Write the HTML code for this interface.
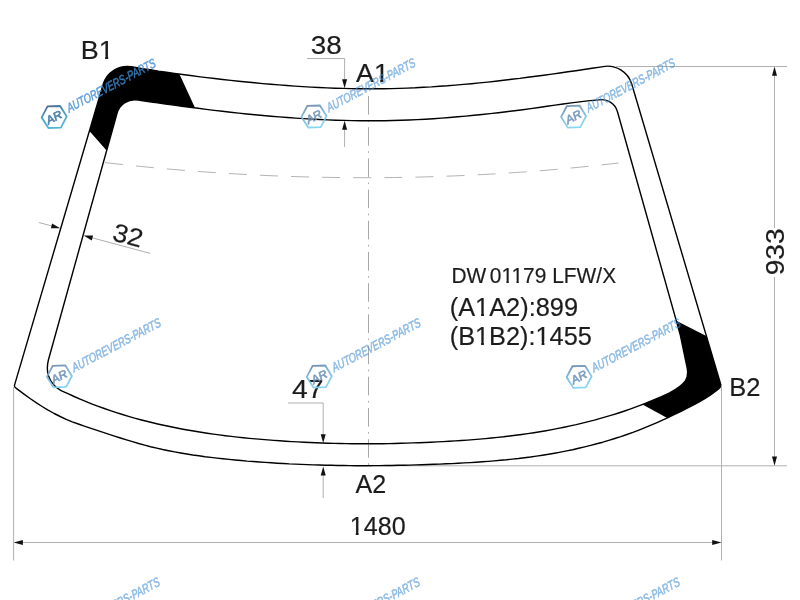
<!DOCTYPE html>
<html>
<head>
<meta charset="utf-8">
<title>DW01179 LFW/X</title>
<style>
html,body{margin:0;padding:0;background:#fff;}
body{width:800px;height:600px;overflow:hidden;}
svg{display:block;will-change:transform;}
text{font-family:"Liberation Sans",sans-serif;fill:#1c1c1c;}
</style>
</head>
<body>
<svg width="800" height="600" viewBox="0 0 800 600">
<defs>
<linearGradient id="hg" x1="0" y1="0" x2="0.25" y2="1">
<stop offset="0" stop-color="#6c83a8"/>
<stop offset="0.45" stop-color="#76b4d6"/>
<stop offset="1" stop-color="#7ed2ee"/>
</linearGradient>
<linearGradient id="hd" x1="0" y1="0" x2="0.25" y2="1">
<stop offset="0" stop-color="#3d5a85"/>
<stop offset="0.45" stop-color="#3f93bd"/>
<stop offset="1" stop-color="#43b0d8"/>
</linearGradient>
</defs>
<rect width="800" height="600" fill="#fff"/>

<!-- thin gray construction lines -->
<g fill="none" stroke="#b0b0b0" stroke-width="1">
<path d="M616 66.5H787"/>
<path d="M369 465.8H787"/>
<path d="M774.5 70V228M774.5 277V462"/>
<path d="M13.6 387V560.5"/>
<path d="M721.5 387V560.5"/>
<path d="M18 542.5H717"/>
<path d="M307 58.5H344.6V84"/>
<path d="M344.6 125V147"/>
<path d="M288 403H323.2V438"/>
<path d="M323.2 470V498"/>
<path d="M38.9 222.5L56 227.1"/>
<path d="M88 236.7L150.2 253.4"/>
</g>
<!-- centre line -->
<path d="M368.5 96V465.5" fill="none" stroke="#a8a8a8" stroke-width="1" stroke-dasharray="18.6 5.5 1.6 5.5"/>
<!-- dashed shade band -->
<path d="M105 162.6Q365 192.6 618.5 163" fill="none" stroke="#b4b4b4" stroke-width="1" stroke-dasharray="18 13.1"/>

<!-- arrows -->
<g fill="#111">
<polygon points="774.5,66.5 772,75.8 777,75.8"/>
<polygon points="774.5,465.8 772,456.5 777,456.5"/>
<polygon points="13.6,542.5 22.9,540 22.9,545"/>
<polygon points="721.5,542.5 712.2,540 712.2,545"/>
<polygon points="344.6,88.2 342.1,79.3 347.1,79.3"/>
<polygon points="344.6,120.8 342.1,129.7 347.1,129.7"/>
<polygon points="323.2,443 320.7,434.2 325.7,434.2"/>
<polygon points="323.2,466.6 320.7,475.4 325.7,475.4"/>
<polygon points="60.2,228.3 50.9,228.2 52.1,223.6"/>
<polygon points="83.6,235.5 93.1,235.6 91.8,240.4"/>
</g>

<!-- black corner fills -->
<g fill="#000">
<path d="M89.4 131L103.1 84.5A25.1 25.1 0 0 1 131.3 66.8L155 70.5L179.4 74.1L195.1 108L165 103.9L138.3 100.1A18.4 18.4 0 0 0 116.9 113.7L106.6 150.6Z"/>
<path d="M676.3 320.8L706.3 335.9L721.3 386.4L720.3 387.4L713.7 392.8L707 397.3L700.4 401.3L693.8 404.9L687.1 408.3L680.5 411.6L673.8 414.8L667.2 418L642.5 404.5L648.6 402.1L654.8 399.6L660.9 396.9L667 394.1L670 392.7C685.8 383.8 689.5 378.7 687 367L680.3 335Z"/>
</g>

<!-- glass outlines -->
<g fill="none" stroke="#000" stroke-width="1.4" stroke-linejoin="round">
<path d="M14.6 384.9L103.1 84.5A25.1 25.1 0 0 1 131.3 66.8L134.3 67.3L142.3 68.6L150.4 69.8L158.4 71.1L166.4 72.2L174.4 73.4L182.5 74.5L190.5 75.5L198.5 76.6L206.6 77.6L214.6 78.5L222.6 79.5L230.7 80.4L238.7 81.2L246.7 82L254.7 82.8L262.8 83.6L270.8 84.3L278.8 84.9L286.9 85.5L294.9 86.1L302.9 86.6L310.9 87.1L319 87.5L327 87.9L335 88.2L343.1 88.4L351.1 88.6L359.1 88.7L367.1 88.8L375.2 88.8L383.2 88.7L391.2 88.6L399.3 88.4L407.3 88.1L415.3 87.8L423.4 87.3L431.4 86.9L439.4 86.3L447.4 85.8L455.5 85.1L463.5 84.4L471.5 83.7L479.6 82.9L487.6 82.1L495.6 81.2L503.6 80.3L511.7 79.3L519.7 78.4L527.7 77.3L535.8 76.3L543.8 75.2L551.8 74.1L559.9 73L567.9 71.8L575.9 70.7L583.9 69.5L592 68.3L600 67.1L603 66.6A25.4 25.4 0 0 1 631.8 84.3L720.7 384.3Q721.3 386.4 719.3 388.2L717.3 389.9L711.3 394.5L705.2 398.4L699.2 401.9L693.2 405.2L687.2 408.2L681.1 411.3L675.1 414.2L669.1 417.1L663 419.9L657 422.6L651 425.2L645 427.7L638.9 430.1L632.9 432.4L626.9 434.5L620.8 436.6L614.8 438.5L608.8 440.4L602.8 442.2L596.7 443.8L590.7 445.4L584.7 446.9L578.6 448.3L572.6 449.7L566.6 450.9L560.6 452.1L554.5 453.2L548.5 454.2L542.5 455.2L536.4 456.1L530.4 457L524.4 457.7L518.4 458.5L512.3 459.1L506.3 459.8L500.3 460.3L494.2 460.9L488.2 461.4L482.2 461.8L476.2 462.2L470.1 462.6L464.1 462.9L458.1 463.3L452 463.6L446 463.8L440 464.1L434 464.3L427.9 464.5L421.9 464.7L415.9 464.9L409.8 465.1L403.8 465.2L397.8 465.3L391.8 465.5L385.7 465.5L379.7 465.6L373.7 465.6L367.6 465.7L361.6 465.7L355.6 465.7L349.6 465.6L343.5 465.5L337.5 465.5L331.5 465.3L325.5 465.2L319.4 465L313.4 464.9L307.4 464.6L301.3 464.4L295.3 464.1L289.3 463.9L283.3 463.5L277.2 463.2L271.2 462.8L265.2 462.4L259.1 462L253.1 461.5L247.1 461.1L241.1 460.5L235 460L229 459.4L223 458.8L216.9 458.1L210.9 457.4L204.9 456.7L198.9 455.8L192.8 455L186.8 454L180.8 453L174.7 451.9L168.7 450.7L162.7 449.5L156.7 448.1L150.6 446.7L144.6 445.1L138.6 443.5L132.5 441.7L126.5 439.9L120.5 438L114.5 436.1L108.4 434.1L102.4 432.1L96.4 430.2L90.3 428.2L84.3 426.2L78.3 424L72.3 421.8L66.2 419.3L60.2 416.5L54.2 413.5L48.1 410.2L42.1 406.5L36.1 402.6L30.1 398.5L24 394.1L18 389.6L16 388.1Q14 387 14.6 384.9Z"/>
<path d="M48.4 360L116.9 113.7A18.4 18.4 0 0 1 138.3 100.1L141.3 100.5L149.4 101.7L157.5 102.9L165.6 104L173.8 105.1L181.9 106.2L190 107.3L198.1 108.3L206.2 109.4L214.3 110.4L222.4 111.3L230.6 112.2L238.7 113.1L246.8 114L254.9 114.8L263 115.5L271.1 116.2L279.2 116.9L287.4 117.5L295.5 118.1L303.6 118.6L311.7 119.1L319.8 119.5L327.9 119.9L336 120.2L344.2 120.4L352.3 120.6L360.4 120.7L368.5 120.8L376.6 120.8L384.7 120.7L392.8 120.5L401 120.3L409.1 120L417.2 119.6L425.3 119.2L433.4 118.7L441.5 118.1L449.6 117.5L457.8 116.8L465.9 116.1L474 115.3L482.1 114.5L490.2 113.6L498.3 112.7L506.4 111.7L514.6 110.7L522.7 109.7L530.8 108.6L538.9 107.5L547 106.3L555.1 105.1L563.2 104L571.4 102.9L579.5 101.9L587.6 100.9L595.7 100.1L598.7 99.9A16.2 16.2 0 0 1 617.4 111.5L680.3 335L687 367C689.5 378.7 685.8 383.8 670 392.7L667 394.1L660.9 396.9L654.9 399.5L648.8 402L642.8 404.4L636.7 406.7L630.7 408.9L624.6 411L618.6 413L612.5 414.9L606.5 416.7L600.4 418.4L594.4 420.1L588.3 421.6L582.3 423.1L576.2 424.6L570.2 425.9L564.1 427.2L558.1 428.4L552 429.6L546 430.7L539.9 431.7L533.9 432.7L527.8 433.6L521.8 434.5L515.7 435.3L509.7 436L503.6 436.8L497.6 437.4L491.5 438L485.5 438.6L479.4 439.1L473.4 439.6L467.3 440.1L461.3 440.5L455.2 440.9L449.2 441.3L443.1 441.6L437.1 441.9L431 442.2L425 442.5L418.9 442.7L412.9 442.9L406.8 443.1L400.8 443.3L394.7 443.5L388.7 443.6L382.6 443.7L376.6 443.8L370.5 443.8L364.5 443.8L358.4 443.8L352.4 443.7L346.3 443.6L340.3 443.5L334.2 443.4L328.2 443.2L322.1 443L316.1 442.8L310 442.5L304 442.2L297.9 441.9L291.9 441.6L285.8 441.2L279.8 440.8L273.7 440.4L267.7 439.9L261.6 439.4L255.6 438.9L249.5 438.4L243.5 437.8L237.4 437.1L231.4 436.4L225.3 435.7L219.3 434.9L213.2 434.1L207.2 433.2L201.1 432.3L195.1 431.3L189 430.3L183 429.2L176.9 428L170.9 426.8L164.8 425.5L158.8 424.2L152.7 422.8L146.7 421.3L140.6 419.7L134.6 418.1L128.5 416.3L122.5 414.5L116.4 412.6L110.4 410.6L104.3 408.5L98.3 406.3L92.2 404.1L86.2 401.6L80.1 399.1L74.1 396.5L68 393.7L65 392.3C53.9 388 44.1 377.3 48.4 360Z"/>
</g>

<!-- labels -->
<g id="labels" stroke="#1c1c1c" stroke-width="0.18" stroke-linejoin="round">
<text transform="translate(80.7 58.9) scale(1.034 1)" font-size="26.1">B1</text>
<text transform="translate(310.8 54.3) scale(1.090 1)" font-size="25.6">38</text>
<text transform="translate(356.1 81.5) scale(1.042 1)" font-size="25.7">A1</text>
<text transform="translate(729.3 396.3) scale(1.000 1)" font-size="25.5">B2</text>
<text transform="translate(355.6 493.1) scale(0.983 1)" font-size="25.5">A2</text>
<text transform="translate(291.9 398.3) scale(1.097 1)" font-size="25.8">47</text>
<text transform="translate(349.8 535) scale(0.985 1)" font-size="25.5">1480</text>
<text transform="translate(451.4 283.4) scale(0.969 1)" font-size="21.6" x="0 15.6 39.6">DW01179 LFW/X</text>
<text transform="translate(449.7 315.8) scale(1.003 1)" font-size="25.3">(A1A2):899</text>
<text transform="translate(449.7 344.8) scale(1.001 1)" font-size="25.3">(B1B2):1455</text>
<text transform="translate(783.8 275.3) rotate(-90) scale(1.075 1)" font-size="26.2">933</text>
<text transform="translate(111.2 239.9) rotate(15) scale(1.06 1)" font-size="25.5">32</text>
</g>
<g fill="#fff">
<rect x="99.5" y="55.8" width="5.6" height="4.3"/>
<rect x="108.2" y="55.8" width="5.3" height="4.3"/>
<rect x="374.7" y="78.5" width="5.6" height="4.2"/>
<rect x="383.4" y="78.5" width="5.3" height="4.2"/>
<rect x="350.6" y="532.0" width="5.2" height="4.2"/>
<rect x="358.6" y="532.0" width="5.0" height="4.2"/>
<rect x="502.0" y="280.7" width="4.4" height="3.9"/>
<rect x="508.8" y="280.7" width="4.1" height="3.9"/>
<rect x="512.1" y="280.7" width="4.4" height="3.9"/>
<rect x="518.8" y="280.7" width="4.1" height="3.9"/>
<rect x="475.8" y="312.8" width="5.3" height="4.2"/>
<rect x="484.0" y="312.8" width="5.0" height="4.2"/>
<rect x="475.8" y="341.8" width="5.3" height="4.2"/>
<rect x="483.9" y="341.8" width="5.0" height="4.2"/>
<rect x="536.3" y="341.8" width="5.3" height="4.2"/>
<rect x="544.4" y="341.8" width="5.0" height="4.2"/>
</g>

<!-- watermark -->
<g transform="translate(54.2 117)">
<polygon points="12.5 0 6.3 10.8 -6.2 10.8 -12.5 0 -6.3 -10.8 6.3 -10.8" transform="rotate(-2)" fill="none" stroke="url(#hd)" stroke-width="1.8" stroke-linejoin="round" opacity="0.92"/>
<g transform="rotate(-28)" font-style="italic">
<text x="-0.3" y="4.1" text-anchor="middle" font-size="11.5" textLength="16.5" lengthAdjust="spacingAndGlyphs" opacity="0.88" style="fill:#346f9a;stroke:#346f9a;stroke-width:0.6">AR</text>
<text transform="translate(15.2 3.3) skewX(-5)" font-size="12.8" textLength="99" lengthAdjust="spacingAndGlyphs" opacity="0.82" style="fill:#3f8cd2;stroke:#3f8cd2;stroke-width:0.55">AUTOREVERS-PARTS</text>
</g>
</g>
<g transform="translate(314 116.5)">
<polygon points="12.5 0 6.3 10.8 -6.2 10.8 -12.5 0 -6.3 -10.8 6.3 -10.8" transform="rotate(-2)" fill="none" stroke="url(#hg)" stroke-width="1.8" stroke-linejoin="round" opacity="0.92"/>
<g transform="rotate(-28)" font-style="italic">
<text x="-0.3" y="4.1" text-anchor="middle" font-size="11.5" textLength="16.5" lengthAdjust="spacingAndGlyphs" opacity="0.88" style="fill:#6a8fb5;stroke:#6a8fb5;stroke-width:0.6">AR</text>
<text transform="translate(15.2 3.3) skewX(-5)" font-size="12.8" textLength="99" lengthAdjust="spacingAndGlyphs" opacity="0.6" style="fill:#3f8cd2;stroke:#3f8cd2;stroke-width:0.55">AUTOREVERS-PARTS</text>
</g>
</g>
<g transform="translate(573.6 116.6)">
<polygon points="12.5 0 6.3 10.8 -6.2 10.8 -12.5 0 -6.3 -10.8 6.3 -10.8" transform="rotate(-2)" fill="none" stroke="url(#hg)" stroke-width="1.8" stroke-linejoin="round" opacity="0.92"/>
<g transform="rotate(-28)" font-style="italic">
<text x="-0.3" y="4.1" text-anchor="middle" font-size="11.5" textLength="16.5" lengthAdjust="spacingAndGlyphs" opacity="0.88" style="fill:#6a8fb5;stroke:#6a8fb5;stroke-width:0.6">AR</text>
<text transform="translate(15.2 3.3) skewX(-5)" font-size="12.8" textLength="99" lengthAdjust="spacingAndGlyphs" opacity="0.6" style="fill:#3f8cd2;stroke:#3f8cd2;stroke-width:0.55">AUTOREVERS-PARTS</text>
</g>
</g>
<g transform="translate(59.4 376.4)">
<polygon points="12.5 0 6.3 10.8 -6.2 10.8 -12.5 0 -6.3 -10.8 6.3 -10.8" transform="rotate(-2)" fill="none" stroke="url(#hg)" stroke-width="1.8" stroke-linejoin="round" opacity="0.92"/>
<g transform="rotate(-28)" font-style="italic">
<text x="-0.3" y="4.1" text-anchor="middle" font-size="11.5" textLength="16.5" lengthAdjust="spacingAndGlyphs" opacity="0.88" style="fill:#6a8fb5;stroke:#6a8fb5;stroke-width:0.6">AR</text>
<text transform="translate(15.2 3.3) skewX(-5)" font-size="12.8" textLength="99" lengthAdjust="spacingAndGlyphs" opacity="0.6" style="fill:#3f8cd2;stroke:#3f8cd2;stroke-width:0.55">AUTOREVERS-PARTS</text>
</g>
</g>
<g transform="translate(319.3 376.5)">
<polygon points="12.5 0 6.3 10.8 -6.2 10.8 -12.5 0 -6.3 -10.8 6.3 -10.8" transform="rotate(-2)" fill="none" stroke="url(#hg)" stroke-width="1.8" stroke-linejoin="round" opacity="0.92"/>
<g transform="rotate(-28)" font-style="italic">
<text x="-0.3" y="4.1" text-anchor="middle" font-size="11.5" textLength="16.5" lengthAdjust="spacingAndGlyphs" opacity="0.88" style="fill:#6a8fb5;stroke:#6a8fb5;stroke-width:0.6">AR</text>
<text transform="translate(15.2 3.3) skewX(-5)" font-size="12.8" textLength="99" lengthAdjust="spacingAndGlyphs" opacity="0.6" style="fill:#3f8cd2;stroke:#3f8cd2;stroke-width:0.55">AUTOREVERS-PARTS</text>
</g>
</g>
<g transform="translate(579.1 376.8)">
<polygon points="12.5 0 6.3 10.8 -6.2 10.8 -12.5 0 -6.3 -10.8 6.3 -10.8" transform="rotate(-2)" fill="none" stroke="url(#hg)" stroke-width="1.8" stroke-linejoin="round" opacity="0.92"/>
<g transform="rotate(-28)" font-style="italic">
<text x="-0.3" y="4.1" text-anchor="middle" font-size="11.5" textLength="16.5" lengthAdjust="spacingAndGlyphs" opacity="0.88" style="fill:#6a8fb5;stroke:#6a8fb5;stroke-width:0.6">AR</text>
<text transform="translate(15.2 3.3) skewX(-5)" font-size="12.8" textLength="99" lengthAdjust="spacingAndGlyphs" opacity="0.6" style="fill:#3f8cd2;stroke:#3f8cd2;stroke-width:0.55">AUTOREVERS-PARTS</text>
</g>
</g>
<g transform="translate(58.4 635.8)">
<polygon points="12.5 0 6.3 10.8 -6.2 10.8 -12.5 0 -6.3 -10.8 6.3 -10.8" transform="rotate(-2)" fill="none" stroke="url(#hg)" stroke-width="1.8" stroke-linejoin="round" opacity="0.92"/>
<g transform="rotate(-28)" font-style="italic">
<text x="-0.3" y="4.1" text-anchor="middle" font-size="11.5" textLength="16.5" lengthAdjust="spacingAndGlyphs" opacity="0.88" style="fill:#6a8fb5;stroke:#6a8fb5;stroke-width:0.6">AR</text>
<text transform="translate(15.2 3.3) skewX(-5)" font-size="12.8" textLength="99" lengthAdjust="spacingAndGlyphs" opacity="0.6" style="fill:#3f8cd2;stroke:#3f8cd2;stroke-width:0.55">AUTOREVERS-PARTS</text>
</g>
</g>
<g transform="translate(318.4 635.8)">
<polygon points="12.5 0 6.3 10.8 -6.2 10.8 -12.5 0 -6.3 -10.8 6.3 -10.8" transform="rotate(-2)" fill="none" stroke="url(#hg)" stroke-width="1.8" stroke-linejoin="round" opacity="0.92"/>
<g transform="rotate(-28)" font-style="italic">
<text x="-0.3" y="4.1" text-anchor="middle" font-size="11.5" textLength="16.5" lengthAdjust="spacingAndGlyphs" opacity="0.88" style="fill:#6a8fb5;stroke:#6a8fb5;stroke-width:0.6">AR</text>
<text transform="translate(15.2 3.3) skewX(-5)" font-size="12.8" textLength="99" lengthAdjust="spacingAndGlyphs" opacity="0.6" style="fill:#3f8cd2;stroke:#3f8cd2;stroke-width:0.55">AUTOREVERS-PARTS</text>
</g>
</g>
<g transform="translate(578.4 635.8)">
<polygon points="12.5 0 6.3 10.8 -6.2 10.8 -12.5 0 -6.3 -10.8 6.3 -10.8" transform="rotate(-2)" fill="none" stroke="url(#hg)" stroke-width="1.8" stroke-linejoin="round" opacity="0.92"/>
<g transform="rotate(-28)" font-style="italic">
<text x="-0.3" y="4.1" text-anchor="middle" font-size="11.5" textLength="16.5" lengthAdjust="spacingAndGlyphs" opacity="0.88" style="fill:#6a8fb5;stroke:#6a8fb5;stroke-width:0.6">AR</text>
<text transform="translate(15.2 3.3) skewX(-5)" font-size="12.8" textLength="99" lengthAdjust="spacingAndGlyphs" opacity="0.6" style="fill:#3f8cd2;stroke:#3f8cd2;stroke-width:0.55">AUTOREVERS-PARTS</text>
</g>
</g>
</svg>
</body>
</html>
